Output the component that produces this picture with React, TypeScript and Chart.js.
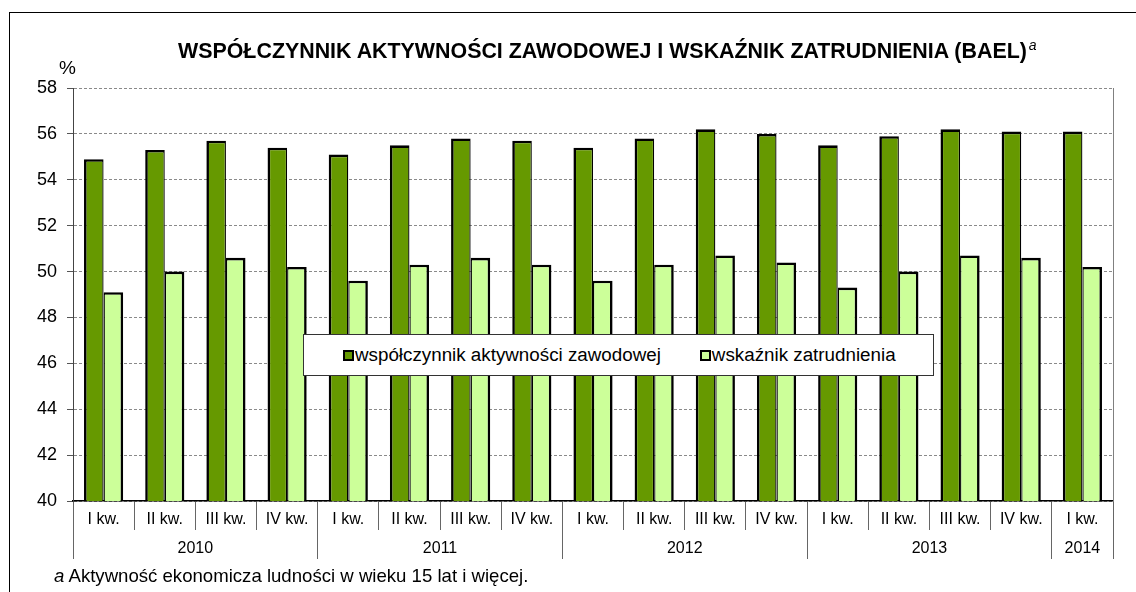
import React, { useEffect, useRef } from "react";
import { Chart, registerables } from "chart.js";

Chart.register(...registerables);

const quarterLabels = [
  "I kw.", "II kw.", "III kw.", "IV kw.",
  "I kw.", "II kw.", "III kw.", "IV kw.",
  "I kw.", "II kw.", "III kw.", "IV kw.",
  "I kw.", "II kw.", "III kw.", "IV kw.",
  "I kw.",
];
const years = ["2010", "2011", "2012", "2013", "2014"];
const quartersPerYear = [4, 4, 4, 4, 1];
const activityRate = [54.9, 55.3, 55.7, 55.4, 55.1, 55.5, 55.8, 55.7, 55.4, 55.8, 56.2, 56.0, 55.5, 55.9, 56.2, 56.1, 56.1];
const employmentRate = [49.1, 50.0, 50.6, 50.2, 49.6, 50.3, 50.6, 50.3, 49.6, 50.3, 50.7, 50.4, 49.3, 50.0, 50.7, 50.6, 50.2];
const seriesLabels = ["współczynnik aktywności zawodowej", "wskaźnik zatrudnienia"];
const seriesColors = ["#669900", "#CCFF99"];
const yMin = 40;
const yMax = 58;
const yStep = 2;
const titleText = "WSPÓŁCZYNNIK AKTYWNOŚCI ZAWODOWEJ I WSKAŹNIK ZATRUDNIENIA (BAEL)";
const footnoteText = "Aktywność ekonomicza ludności w wieku 15 lat i więcej.";

const FONT = 'Arial, "Liberation Sans", sans-serif';

// year group boundaries and centres in category index units
const yearBounds: number[] = [];
const yearCenters: number[] = [];
{
  let start = -0.5;
  yearBounds.push(start);
  quartersPerYear.forEach((n) => {
    yearCenters.push(start + n / 2);
    start += n;
    yearBounds.push(start);
  });
}

export default function App() {
  const ref = useRef<HTMLCanvasElement>(null);

  useEffect(() => {
    Chart.defaults.font.family = FONT;
    Chart.defaults.color = "#000";
    const chart = new Chart(ref.current as HTMLCanvasElement, {
      type: "bar",
      data: {
        labels: quarterLabels,
        datasets: [
          {
            label: seriesLabels[0],
            data: activityRate,
            backgroundColor: seriesColors[0],
            borderColor: "#000",
            borderWidth: { top: 2.6, left: 2.6, right: 1.3, bottom: 0 } as any,
            inflateAmount: 0,
            categoryPercentage: 0.64,
            barPercentage: 1,
            xAxisID: "x",
            yAxisID: "y",
          },
          {
            label: seriesLabels[1],
            data: employmentRate,
            backgroundColor: seriesColors[1],
            borderColor: "#000",
            borderWidth: { top: 2.6, left: 1.3, right: 2.6, bottom: 0 } as any,
            inflateAmount: 0,
            categoryPercentage: 0.64,
            barPercentage: 1,
            xAxisID: "x",
            yAxisID: "y",
          },
        ],
      },
      options: {
        animation: false,
        responsive: false,
        events: [],
        layout: { padding: { top: 88, left: 0, right: 23, bottom: 33 } },
        plugins: {
          legend: { display: false },
          title: { display: false },
          tooltip: { enabled: false },
        },
        scales: {
          x: {
            type: "category",
            position: "bottom",
            offset: true,
            grid: {
              offset: true,
              drawOnChartArea: false,
              drawTicks: true,
              tickLength: 29,
              color: "#666",
              tickColor: "#666",
              lineWidth: 1,
            },
            border: { display: true, color: "#000", width: 1.5 },
            ticks: {
              autoSkip: false,
              maxRotation: 0,
              minRotation: 0,
              padding: -19.6,
              font: { size: 16 },
              color: "#000",
            },
            afterFit: (scale: any) => {
              scale.height = 29;
            },
          },
          x2: {
            type: "linear",
            position: "bottom",
            min: -0.5,
            max: 16.5,
            offset: false,
            grid: {
              offset: false,
              drawOnChartArea: false,
              drawTicks: true,
              tickLength: 29,
              color: (ctx: any) =>
                ctx.tick && yearBounds.includes(ctx.tick.value) ? "#666" : "rgba(0,0,0,0)",
              tickColor: (ctx: any) =>
                ctx.tick && yearBounds.includes(ctx.tick.value) ? "#666" : "rgba(0,0,0,0)",
              lineWidth: 1,
            },
            border: { display: false },
            afterBuildTicks: (scale: any) => {
              scale.ticks = [...yearBounds, ...yearCenters]
                .sort((a, b) => a - b)
                .map((v) => ({ value: v }));
            },
            ticks: {
              autoSkip: false,
              maxRotation: 0,
              minRotation: 0,
              padding: -19.6,
              font: { size: 16 },
              color: "#000",
              callback: (value: any) => {
                const i = yearCenters.indexOf(Number(value));
                return i >= 0 ? years[i] : "";
              },
            },
            afterFit: (scale: any) => {
              scale.height = 29;
            },
          },
          y: {
            type: "linear",
            position: "left",
            min: yMin,
            max: yMax,
            ticks: {
              stepSize: yStep,
              padding: 10,
              font: { size: 18 },
              color: "#000",
            },
            grid: {
              color: "#8a8a8a",
              lineWidth: 1,
              drawTicks: true,
              tickLength: 6,
              tickColor: "#555",
            },
            border: { display: true, color: "#444", width: 1, dash: [3, 2] },
            afterFit: (scale: any) => {
              scale.width = 73;
            },
          },
          y2: {
            type: "linear",
            position: "right",
            min: yMin,
            max: yMax,
            grid: { display: false, drawOnChartArea: false, drawTicks: false },
            ticks: { display: false },
            border: { display: true, color: "#808080", width: 1 },
            afterFit: (scale: any) => {
              scale.width = 0;
            },
          },
        },
      } as any,
    });
    return () => chart.destroy();
  }, []);

  return (
    <div
      style={{
        position: "fixed",
        left: 0,
        top: 0,
        width: 1136,
        height: 592,
        overflow: "hidden",
        background: "#fff",
        fontFamily: FONT,
        color: "#000",
      }}
    >
      <div
        style={{
          position: "absolute",
          left: 9,
          top: 12,
          width: 1300,
          height: 800,
          borderLeft: "1px solid #000",
          borderTop: "1px solid #000",
        }}
      />
      <canvas
        ref={ref}
        width={1136}
        height={592}
        style={{ position: "absolute", left: 0, top: 0, width: 1136, height: 592 }}
      />
      <div
        style={{
          position: "absolute",
          left: 178,
          top: 38.5,
          fontSize: 21.4,
          lineHeight: "24px",
          fontWeight: "bold",
          whiteSpace: "nowrap",
        }}
      >
        {titleText}
        <span
          style={{
            fontStyle: "italic",
            fontWeight: "normal",
            fontSize: 14,
            position: "relative",
            top: -8,
            marginLeft: 2,
          }}
        >
          a
        </span>
      </div>
      <div
        style={{
          position: "absolute",
          left: 59,
          top: 58,
          fontSize: 19,
          lineHeight: "19px",
          whiteSpace: "nowrap",
        }}
      >
        %
      </div>
      <div
        style={{
          position: "absolute",
          left: 303,
          top: 334,
          width: 631,
          height: 42,
          boxSizing: "border-box",
          background: "#fff",
          border: "1px solid #333",
          display: "flex",
          alignItems: "center",
          paddingLeft: 39,
          fontSize: 18.8,
          whiteSpace: "nowrap",
        }}
      >
        {seriesLabels.map((label, i) => (
          <div
            key={label}
            style={{ display: "flex", alignItems: "center", marginRight: 39 }}
          >
            <span
              style={{
                display: "inline-block",
                width: 11,
                height: 11,
                boxSizing: "border-box",
                border: "2px solid #000",
                background: seriesColors[i],
                marginRight: 1,
              }}
            />
            <span style={{ lineHeight: "22px" }}>{label}</span>
          </div>
        ))}
      </div>
      <div
        style={{
          position: "absolute",
          left: 54,
          top: 565.5,
          fontSize: 18.6,
          lineHeight: "20px",
          whiteSpace: "nowrap",
        }}
      >
        <i>a</i> {footnoteText}
      </div>
    </div>
  );
}
